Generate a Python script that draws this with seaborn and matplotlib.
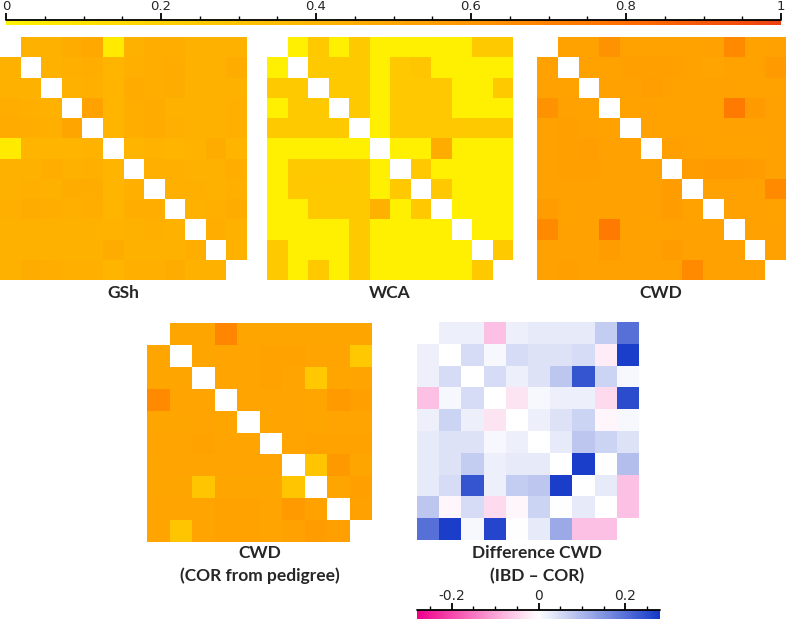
import numpy as np
import matplotlib
matplotlib.use("Agg")
import matplotlib.pyplot as plt
import seaborn as sns
from matplotlib.colors import LinearSegmentedColormap
from matplotlib.ticker import MultipleLocator

nan = np.nan

# pairwise values, 12 groups (diagonal left empty)
gsh = np.array([
    [nan, .42, .42, .45, .47, .05, .42, .44, .44, .42, .42, .42],
    [.42, nan, .42, .43, .44, .40, .43, .44, .46, .42, .42, .45],
    [.42, .42, nan, .42, .43, .40, .46, .44, .45, .42, .42, .42],
    [.44, .43, .42, nan, .52, .40, .44, .46, .42, .42, .42, .43],
    [.46, .44, .43, .50, nan, .40, .44, .46, .43, .42, .42, .43],
    [.05, .40, .40, .40, .41, nan, .40, .41, .40, .41, .45, .40],
    [.42, .42, .44, .42, .43, .40, nan, .43, .43, .42, .42, .44],
    [.42, .43, .42, .45, .45, .40, .43, nan, .43, .43, .42, .43],
    [.43, .45, .44, .43, .44, .40, .44, .44, nan, .42, .43, .45],
    [.42, .42, .42, .42, .42, .41, .42, .43, .42, nan, .44, .42],
    [.42, .42, .42, .42, .42, .45, .42, .42, .42, .44, nan, .42],
    [.42, .45, .44, .43, .43, .40, .43, .43, .45, .42, .42, nan],
])

wca = np.array([
    [nan, .02, .25, .02, .25, .02, .02, .02, .02, .02, .25, .25],
    [.02, nan, .25, .25, .25, .02, .26, .28, .02, .02, .02, .02],
    [.25, .25, nan, .25, .25, .02, .26, .26, .26, .02, .02, .25],
    [.02, .25, .25, nan, .25, .02, .26, .26, .26, .02, .02, .02],
    [.25, .25, .25, .25, nan, .02, .26, .26, .26, .25, .25, .25],
    [.02, .02, .02, .02, .02, nan, .02, .02, .45, .02, .02, .02],
    [.02, .25, .25, .26, .25, .02, nan, .26, .02, .02, .02, .02],
    [.02, .26, .25, .25, .25, .02, .26, nan, .26, .02, .02, .02],
    [.02, .02, .25, .25, .25, .42, .02, .26, nan, .02, .02, .02],
    [.02, .02, .02, .02, .25, .02, .02, .02, .02, nan, .02, .02],
    [.25, .02, .02, .02, .25, .02, .02, .02, .02, .02, nan, .25],
    [.25, .02, .25, .02, .25, .02, .02, .02, .02, .02, .25, nan],
])

cwd = np.array([
    [nan, .52, .52, .62, .52, .52, .52, .52, .53, .66, .52, .53],
    [.53, nan, .52, .52, .54, .54, .54, .52, .51, .52, .52, .57],
    [.53, .52, nan, .53, .53, .55, .53, .52, .52, .53, .52, .52],
    [.62, .53, .52, nan, .52, .53, .52, .52, .52, .74, .57, .53],
    [.53, .54, .53, .52, nan, .53, .52, .52, .52, .53, .53, .53],
    [.53, .54, .55, .53, .53, nan, .54, .53, .52, .52, .52, .53],
    [.53, .54, .54, .53, .53, .53, nan, .56, .57, .57, .56, .53],
    [.53, .53, .53, .53, .53, .53, .56, nan, .53, .53, .53, .66],
    [.56, .52, .53, .53, .53, .53, .56, .52, nan, .53, .53, .52],
    [.66, .53, .53, .74, .53, .52, .53, .53, .53, nan, .53, .53],
    [.53, .53, .53, .56, .53, .53, .56, .53, .53, .53, nan, .53],
    [.53, .54, .53, .53, .53, .53, .53, .66, .53, .53, .53, nan],
])

# 10 groups, coancestry from pedigree
cwd_cor = np.array([
    [nan, .50, .50, .68, .50, .50, .50, .50, .50, .50],
    [.50, nan, .50, .51, .51, .52, .52, .51, .51, .26],
    [.50, .50, nan, .51, .51, .52, .51, .26, .50, .51],
    [.66, .51, .51, nan, .51, .51, .51, .50, .57, .54],
    [.50, .50, .51, .50, nan, .50, .51, .50, .51, .51],
    [.51, .51, .52, .51, .51, nan, .51, .52, .52, .52],
    [.50, .51, .51, .51, .51, .51, nan, .28, .58, .50],
    [.50, .50, .28, .50, .50, .50, .28, nan, .50, .54],
    [.51, .51, .51, .52, .52, .51, .57, .52, nan, .53],
    [.51, .28, .51, .52, .52, .51, .53, .56, .54, nan],
])

# IBD - COR difference
diff = np.array([
    [nan, .02, .02, -.07, .02, .03, .03, .03, .07, .20],
    [.02, nan, .05, .01, .05, .04, .04, .05, -.02, .27],
    [.02, .05, nan, .05, .02, .04, .08, .24, .06, .01],
    [-.07, .01, .05, nan, -.03, .01, .02, .02, -.04, .25],
    [.02, .06, .02, -.03, nan, .02, .04, .06, -.01, .01],
    [.03, .04, .04, .01, .02, nan, .03, .08, .06, .04],
    [.03, .04, .07, .02, .03, .03, nan, .27, .00, .09],
    [.03, .05, .24, .02, .07, .08, .27, nan, .03, -.07],
    [.08, -.01, .05, -.04, -.01, .06, .00, .03, nan, -.07],
    [.20, .27, .01, .26, .00, .03, .12, -.07, -.07, nan],
])

top_ticks = [0, 0.2, 0.4, 0.6, 0.8, 1]
top_labels = ["0", "0.2", "0.4", "0.6", "0.8", "1"]
diff_ticks = [-0.2, 0, 0.2]
diff_labels = ["-0.2", "0", "0.2"]

sns.set_style("white")
plt.rcParams["font.family"] = ["DejaVu Sans"]

cmap_top = LinearSegmentedColormap.from_list("yor", [
    (0, "#FFF200"), (0.2, "#FFD000"), (0.4, "#FFB400"),
    (0.6, "#FF9600"), (0.8, "#FF6E00"), (1, "#EE4010")])
cmap_diff = LinearSegmentedColormap.from_list("pwb", ["#F0008C", "#FFFFFF", "#1438C8"])

W, H = 786, 619
fig = plt.figure(figsize=(W / 100, H / 100), dpi=100)


def box(x0, y0, x1, y1):
    # pixel box (top-left origin) -> figure fraction rect
    return [x0 / W, 1 - y1 / H, (x1 - x0) / W, (y1 - y0) / H]


def heat(data, rect, cmap, vmin, vmax, cax=None, ticks=None):
    ax = fig.add_axes(rect)
    sns.heatmap(data, cmap=cmap, vmin=vmin, vmax=vmax, ax=ax,
                xticklabels=False, yticklabels=False,
                cbar=cax is not None, cbar_ax=cax,
                cbar_kws={"orientation": "horizontal", "ticks": ticks} if cax else None)
    ax.tick_params(length=0)
    return ax


def style_cbar(ax, labels, fs):
    cb = ax.collections[0].colorbar
    cb.outline.set_visible(False)
    cb.ax.xaxis.set_ticks_position("top")
    cb.set_ticklabels(labels)
    cb.ax.xaxis.set_minor_locator(MultipleLocator(0.05))
    cb.ax.tick_params(axis="x", which="major", length=4.8, width=1.3, pad=0.5, labelsize=fs, color="black")
    cb.ax.tick_params(axis="x", which="minor", length=2.6, width=1, color="black")
    cb.ax.plot([0, 1], [1, 1], transform=cb.ax.transAxes, color="black", lw=1.3, clip_on=False)


cax_top = fig.add_axes(box(6, 20, 781, 25))
ax1 = heat(gsh, box(0, 37, 247, 280), cmap_top, 0, 1, cax=cax_top, ticks=top_ticks)
style_cbar(ax1, top_labels, 9.5)
heat(wca, box(267, 37, 513, 280), cmap_top, 0, 1)
heat(cwd, box(537, 37, 786, 280), cmap_top, 0, 1)
heat(cwd_cor, box(147, 323, 372, 542), cmap_top, 0, 1)

cax_bot = fig.add_axes(box(417, 610, 660, 619))
ax5 = heat(diff, box(417, 322, 639, 540), cmap_diff, -0.28, 0.28, cax=cax_bot, ticks=diff_ticks)
style_cbar(ax5, diff_labels, 10)

lab = dict(ha="center", va="center", fontsize=12.5, fontweight="bold", family=["Lato", "DejaVu Sans"])
for x, y, s in [(123, 293, "GSh"), (390, 293, "WCA"), (661, 293, "CWD"),
                (260, 553, "CWD"), (260, 576, "(COR from pedigree)"),
                (537, 553, "Difference CWD"), (537, 576, "(IBD \u2013 COR)")]:
    fig.text(x / W, 1 - y / H, s, **lab)

fig.savefig("out.png", dpi=100)
